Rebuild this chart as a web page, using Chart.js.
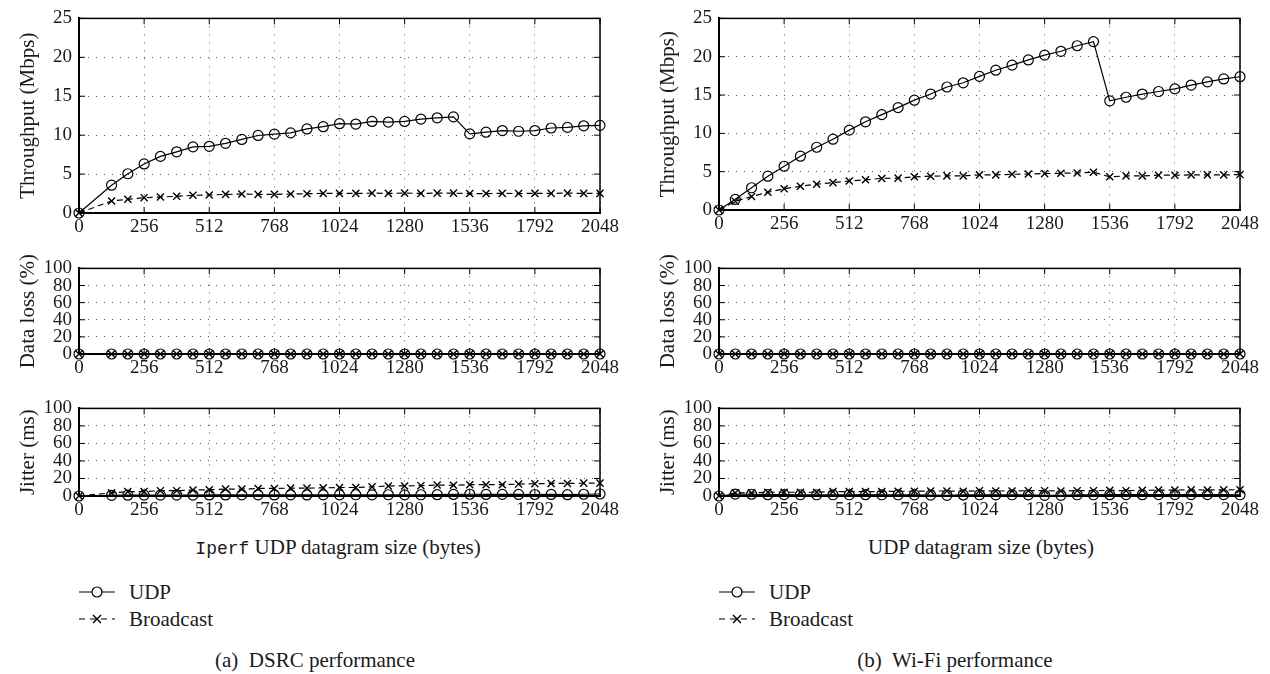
<!DOCTYPE html>
<html>
<head>
<meta charset="utf-8">
<script src="https://cdn.jsdelivr.net/npm/chart.js@4.4.0/dist/chart.umd.min.js"></script>
<style>
  body { margin: 0; background: #fff; width: 1270px; height: 674px; position: relative; overflow: hidden;
         font-family: "Liberation Serif", "DejaVu Serif", serif; color: #1a1a1a; }
  canvas { position: absolute; }
  .txt { position: absolute; font-size: 21px; white-space: nowrap; line-height: 24px; }
  .center { transform: translateX(-50%); }
  .mono { font-family: "Liberation Mono", "DejaVu Sans Mono", monospace; font-size: 18px; }
  .leg { position: absolute; display: flex; align-items: center; font-size: 21px; line-height: 24px; }
  .leg svg { margin-right: 14px; }
</style>
</head>
<body>

<canvas id="dsrc-tp"></canvas>
<canvas id="dsrc-loss"></canvas>
<canvas id="dsrc-jit"></canvas>
<canvas id="wifi-tp"></canvas>
<canvas id="wifi-loss"></canvas>
<canvas id="wifi-jit"></canvas>

<div class="txt center" style="left:338px;top:535px"><span class="mono">Iperf</span> UDP datagram size (bytes)</div>
<div class="txt center" style="left:981px;top:535px">UDP datagram size (bytes)</div>

<div class="leg" style="left:79px;top:580px">
  <svg width="36" height="20"><line x1="0" y1="10" x2="36" y2="10" stroke="#000" stroke-width="1.2"/><circle cx="18" cy="10" r="5" fill="#fff" stroke="#000" stroke-width="1.2"/></svg>UDP
</div>
<div class="leg" style="left:79px;top:607px">
  <svg width="36" height="20"><line x1="0" y1="10" x2="36" y2="10" stroke="#000" stroke-width="1.2" stroke-dasharray="6 5"/><path d="M14 6 L22 14 M22 6 L14 14" stroke="#000" stroke-width="1.4"/></svg>Broadcast
</div>
<div class="leg" style="left:719px;top:580px">
  <svg width="36" height="20"><line x1="0" y1="10" x2="36" y2="10" stroke="#000" stroke-width="1.2"/><circle cx="18" cy="10" r="5" fill="#fff" stroke="#000" stroke-width="1.2"/></svg>UDP
</div>
<div class="leg" style="left:719px;top:607px">
  <svg width="36" height="20"><line x1="0" y1="10" x2="36" y2="10" stroke="#000" stroke-width="1.2" stroke-dasharray="6 5"/><path d="M14 6 L22 14 M22 6 L14 14" stroke="#000" stroke-width="1.4"/></svg>Broadcast
</div>

<div class="txt center" style="left:315px;top:648px">(a)&nbsp; DSRC performance</div>
<div class="txt center" style="left:955px;top:648px">(b)&nbsp; Wi-Fi performance</div>

<script>
// ============================================================
// DATA
// ============================================================

const xTicks = [0, 256, 512, 768, 1024, 1280, 1536, 1792, 2048];

// DSRC has no 64-byte point
const dsrcSizes = [0, 128, 192, 256, 320, 384, 448, 512, 576, 640, 704, 768, 832, 896, 960,
  1024, 1088, 1152, 1216, 1280, 1344, 1408, 1472,
  1536, 1600, 1664, 1728, 1792, 1856, 1920, 1984, 2048];
const wifiSizes = [0, 64, 128, 192, 256, 320, 384, 448, 512, 576, 640, 704, 768, 832, 896, 960,
  1024, 1088, 1152, 1216, 1280, 1344, 1408, 1472,
  1536, 1600, 1664, 1728, 1792, 1856, 1920, 1984, 2048];

// Throughput (Mbps)
const dsrcUdpThroughput = [0, 3.57, 5.04, 6.30, 7.27, 7.86, 8.49, 8.57, 8.95, 9.45, 9.96, 10.13, 10.29, 10.80, 11.09,
  11.47, 11.43, 11.76, 11.68, 11.76, 12.06, 12.23, 12.35,
  10.17, 10.38, 10.59, 10.50, 10.59, 10.92, 11.00, 11.20, 11.26];
const dsrcBcastThroughput = [0, 1.55, 1.76, 1.97, 2.05, 2.14, 2.27, 2.31, 2.39, 2.44, 2.39, 2.39, 2.44, 2.48, 2.52,
  2.52, 2.52, 2.55, 2.52, 2.55, 2.52, 2.55, 2.55,
  2.50, 2.50, 2.52, 2.50, 2.52, 2.52, 2.55, 2.52, 2.52];
const wifiUdpThroughput = [0, 1.39, 2.90, 4.41, 5.71, 7.02, 8.19, 9.24, 10.42, 11.51, 12.44, 13.36, 14.33, 15.13, 16.05, 16.60,
  17.44, 18.24, 18.90, 19.58, 20.21, 20.71, 21.43, 21.97,
  14.24, 14.71, 15.13, 15.46, 15.80, 16.30, 16.72, 17.10, 17.39];
const wifiBcastThroughput = [0, 1.13, 1.76, 2.31, 2.77, 3.10, 3.36, 3.57, 3.78, 3.95, 4.12, 4.16, 4.33, 4.41, 4.45, 4.45,
  4.58, 4.58, 4.66, 4.70, 4.75, 4.79, 4.83, 4.92,
  4.33, 4.45, 4.45, 4.54, 4.54, 4.58, 4.58, 4.58, 4.62];

// Data loss (%)
const dsrcUdpLoss   = [0, 0, 0, 0, 0, 0, 0, 0, 0, 0, 0, 0, 0, 0, 0, 0, 0, 0, 0, 0, 0, 0, 0, 0, 0, 0, 0, 0, 0, 0, 0, 0];
const dsrcBcastLoss = [0, 0, 0, 0, 0, 0, 0, 0, 0, 0, 0, 0, 0, 0, 0, 0, 0, 0, 0, 0, 0, 0, 0, 0, 0, 0, 0, 0, 0, 0, 0, 0];
const wifiUdpLoss   = [0, 0, 0, 0, 0, 0, 0, 0, 0, 0, 0, 0, 0, 0, 0, 0, 0, 0, 0, 0, 0, 0, 0, 0, 0, 0, 0, 0, 0, 0, 0, 0, 0];
const wifiBcastLoss = [0, 0, 0, 0, 0, 0, 0, 0, 0, 0, 0, 0, 0, 0, 0, 0, 0, 0, 0, 0, 0, 0, 0, 0, 0, 0, 0, 0, 0, 0, 0, 0, 0];

// Jitter (ms)
const dsrcUdpJitter = [0, 0.8, 0.9, 1.0, 1.0, 1.1, 1.1, 1.2, 1.2, 1.3, 1.3, 1.2, 1.3, 1.2, 1.3,
  1.3, 1.4, 1.3, 1.4, 1.3, 1.4, 1.5, 1.8,
  2.0, 1.8, 1.9, 1.8, 1.7, 1.8, 1.5, 2.0, 2.3];
const dsrcBcastJitter = [0, 3.6, 5.0, 5.0, 6.1, 6.1, 6.8, 7.2, 7.9, 7.9, 8.6, 8.6, 9.0, 9.0, 9.3,
  9.7, 9.7, 10.4, 11.5, 11.5, 11.8, 12.5, 12.2,
  12.9, 12.9, 12.9, 13.6, 14.0, 14.3, 14.3, 14.7, 14.7];
const wifiUdpJitter = [0, 2.2, 2.0, 1.5, 1.6, 1.4, 1.4, 1.4, 1.4, 1.5, 1.4, 1.4, 1.3, 1.0, 0.8, 1.2,
  1.4, 1.3, 1.4, 1.3, 0.8, 0.8, 1.4, 1.4,
  1.5, 1.6, 1.5, 1.6, 1.6, 1.6, 1.6, 1.6, 1.4];
const wifiBcastJitter = [0, 3.6, 3.6, 4.3, 4.3, 4.3, 4.3, 5.0, 5.0, 5.0, 5.0, 5.4, 5.4, 5.7, 5.7, 5.4,
  6.1, 5.7, 5.7, 6.1, 6.1, 5.7, 6.1, 6.1,
  6.4, 6.1, 6.4, 6.8, 6.8, 7.0, 6.8, 7.0, 7.2];

// ============================================================
// CHART HELPERS
// ============================================================

const FONT = '"Liberation Serif", "DejaVu Serif", serif';
const INK = '#1a1a1a';

// full box round the plot with inward tick marks, like the gnuplot frame
const framePlugin = {
  id: 'frame',
  beforeDatasetsDraw(chart) {
    const { ctx, chartArea: a, scales } = chart;
    ctx.save();
    ctx.strokeStyle = '#000';
    ctx.lineWidth = 1.5;
    ctx.strokeRect(a.left, a.top, a.right - a.left, a.bottom - a.top);

    ctx.lineWidth = 1;
    ctx.beginPath();
    scales.x.ticks.forEach(t => {
      const px = scales.x.getPixelForValue(t.value);
      ctx.moveTo(px, a.bottom); ctx.lineTo(px, a.bottom - 6);
      ctx.moveTo(px, a.top); ctx.lineTo(px, a.top + 6);
    });
    scales.y.ticks.forEach(t => {
      const py = scales.y.getPixelForValue(t.value);
      ctx.moveTo(a.left, py); ctx.lineTo(a.left + 6, py);
      ctx.moveTo(a.right, py); ctx.lineTo(a.right - 6, py);
    });
    ctx.stroke();
    ctx.restore();
  }
};

function pts(xs, ys) {
  return xs.map((x, i) => ({ x, y: ys[i] }));
}

function series(xs, udp, bcast) {
  return [
    {
      label: 'UDP',
      data: pts(xs, udp),
      borderColor: '#000',
      borderWidth: 1.2,
      pointStyle: 'circle',
      pointRadius: 5,
      pointBorderWidth: 1.2,
      pointBackgroundColor: 'rgba(255,255,255,0)',
      pointBorderColor: '#000',
      clip: false
    },
    {
      label: 'Broadcast',
      data: pts(xs, bcast),
      borderColor: '#000',
      borderWidth: 1.2,
      borderDash: [6, 4],
      pointStyle: 'crossRot',
      pointRadius: 5,
      pointBorderWidth: 1.4,
      pointBorderColor: '#000',
      clip: false
    }
  ];
}

function makePanel(id, box, datasets, yMax, yStep, yTitle) {
  const el = document.getElementById(id);
  el.width = box.w;
  el.height = box.h;
  el.style.left = box.x + 'px';
  el.style.top = box.y + 'px';

  new Chart(el.getContext('2d'), {
    type: 'line',
    data: { datasets },
    options: {
      responsive: false,
      animation: false,
      layout: { padding: { top: box.padTop, right: box.padRight, left: 0, bottom: 0 } },
      plugins: { legend: { display: false }, tooltip: { enabled: false } },
      scales: {
        x: {
          type: 'linear',
          min: 0,
          max: 2048,
          afterBuildTicks: s => { s.ticks = xTicks.map(v => ({ value: v })); },
          afterFit: s => { s.height = box.xh; },
          ticks: { color: INK, font: { family: FONT, size: 19 }, padding: 3, maxRotation: 0, autoSkip: false,
                   callback: v => String(v) },
          grid: { color: '#555', lineWidth: 1, drawTicks: false },
          border: { display: true, color: '#000', width: 2, dash: [1, 7] }
        },
        y: {
          min: 0,
          max: yMax,
          afterFit: s => { s.width = 79; },
          ticks: { stepSize: yStep, color: INK, font: { family: FONT, size: 19 }, padding: 7, autoSkip: false,
                   callback: v => String(v) },
          grid: { color: '#555', lineWidth: 1, drawTicks: false },
          border: { display: true, color: '#000', width: 2, dash: [1, 7] },
          title: { display: true, text: yTitle, color: INK, font: { family: FONT, size: 21 },
                   padding: { top: 16, bottom: 0 } }
        }
      }
    },
    plugins: [framePlugin]
  });
}

// ============================================================
// PANELS
// ============================================================

// left column: plot 79..600, right column: plot 719..1240
makePanel('dsrc-tp',   { x: 0, y: 0,   w: 640, h: 250, padTop: 15, padRight: 40, xh: 37 },
  series(dsrcSizes, dsrcUdpThroughput, dsrcBcastThroughput), 25, 5, 'Throughput (Mbps)');
makePanel('dsrc-loss', { x: 0, y: 250, w: 640, h: 140, padTop: 11, padRight: 40, xh: 36 },
  series(dsrcSizes, dsrcUdpLoss, dsrcBcastLoss), 100, 20, 'Data loss (%)');
makePanel('dsrc-jit',  { x: 0, y: 390, w: 640, h: 142, padTop: 12, padRight: 40, xh: 36 },
  series(dsrcSizes, dsrcUdpJitter, dsrcBcastJitter), 100, 20, 'Jitter (ms)');

makePanel('wifi-tp',   { x: 640, y: 0,   w: 630, h: 250, padTop: 12, padRight: 30, xh: 40 },
  series(wifiSizes, wifiUdpThroughput, wifiBcastThroughput), 25, 5, 'Throughput (Mbps)');
makePanel('wifi-loss', { x: 640, y: 250, w: 630, h: 140, padTop: 11, padRight: 30, xh: 36 },
  series(wifiSizes, wifiUdpLoss, wifiBcastLoss), 100, 20, 'Data loss (%)');
makePanel('wifi-jit',  { x: 640, y: 390, w: 630, h: 142, padTop: 12, padRight: 30, xh: 36 },
  series(wifiSizes, wifiUdpJitter, wifiBcastJitter), 100, 20, 'Jitter (ms)');
</script>
</body>
</html>
